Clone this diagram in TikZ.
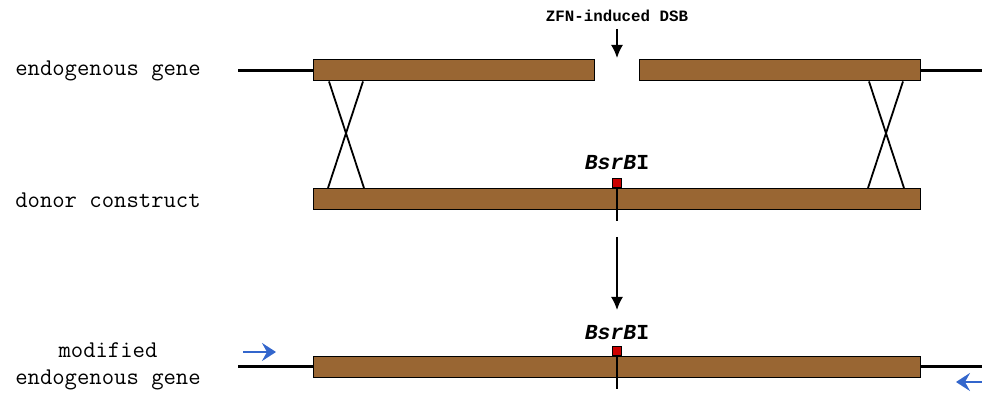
\documentclass[tikz,border=0pt]{standalone}
\usepackage{fontspec}
\newfontfamily\heavymono{Liberation Mono}
\usetikzlibrary{arrows,arrows.meta,positioning}
\definecolor{genebrown}{HTML}{996633}
\definecolor{sitered}{HTML}{CC0000}
\definecolor{primerblue}{HTML}{3366CC}
\tikzset{
  bar/.style={rectangle,draw=black,line width=0.5pt,fill=genebrown,anchor=west,minimum height=10.5pt,inner sep=0pt},
  site/.style={rectangle,draw=black,line width=0.3pt,fill=sitered,minimum size=4.5pt,inner sep=0pt},
  flank/.style={line width=1.5pt},
  xover/.style={line width=0.9pt},
  primer/.style={-{Stealth[length=7pt,width=9pt,inset=2.5pt]},line width=1.2pt,primerblue},
  down/.style={-{Latex[length=6.5pt,width=6pt]},line width=0.8pt},
  label/.style={font=\ttfamily\fontsize{12}{13.5}\selectfont,align=center},
  enzlabel/.style={font=\heavymono\bfseries\fontsize{10.7}{13}\selectfont},
}
\newcommand{\Enz}{\textit{BsrB}I}
\begin{document}
\begin{tikzpicture}[x=0.5pt,y=-0.5pt]
\useasboundingbox (0,0) rectangle (982,394);
% row 1: endogenous gene with break
\node (endoL) [bar,minimum width=140.5pt] at (313,70.5) {};
\node (endoR) [bar,minimum width=140.5pt] at (639,70.5) {};
\coordinate (endoIn) at (238,70.5);
\coordinate (endoOut) at (982,70.5);
\draw[flank] (endoIn) -- (endoL.west);
\draw[flank] (endoR.east) -- (endoOut);
\node (endoTxt) [label] at (108,71) {endogenous gene};
\node (dsbTxt) [font=\heavymono\bfseries\fontsize{7.9}{9}\selectfont] at (617,16) {ZFN-induced DSB};
\coordinate (dsbTip) at (617,58);
\draw[down] (dsbTxt.south) -- (dsbTip);
%
% row 2: donor
\node (donor) [bar,minimum width=303.5pt] at (313,199) {};
\node (donorTxt) [label] at (108,200) {donor construct};
\node (siteD) [site] at (617,182.5) {};
\node (enzD) [enzlabel] at (617,163) {\Enz};
\draw[line width=1pt] (siteD.south) -- ++(0,34);
%
% crossovers
\draw[xover] ([xshift=8pt]endoL.south west) -- ([xshift=25.5pt]donor.north west);
\draw[xover] ([xshift=25pt]endoL.south west) -- ([xshift=7.5pt]donor.north west);
\draw[xover] ([xshift=-26pt]endoR.south east) -- ([xshift=-8.5pt]donor.north east);
\draw[xover] ([xshift=-9pt]endoR.south east) -- ([xshift=-26.5pt]donor.north east);
%
\coordinate (stepTop) at (617,237);
\coordinate (stepBot) at (617,310);
\draw[down] (stepTop) -- (stepBot);
%
% row 3: modified gene
\node (modG) [bar,minimum width=303.5pt] at (313,367) {};
\coordinate (modIn) at (238,367);
\coordinate (modOut) at (982,367);
\draw[flank] (modIn) -- (modG.west);
\draw[flank] (modG.east) -- (modOut);
\node (siteM) [site] at (617,350.5) {};
\node (enzM) [enzlabel] at (617,333) {\Enz};
\draw[line width=1pt] (siteM.south) -- ++(0,34);
\node (modTxt) [label] at (108,366.5) {modified\\endogenous gene};
%
\coordinate (fwdA) at (243,352);
\coordinate (fwdB) at (276,352);
\coordinate (revA) at (982,382);
\coordinate (revB) at (956,382);
\draw[primer] (fwdA) -- (fwdB);
\draw[primer] (revA) -- (revB);
\end{tikzpicture}
\end{document}
